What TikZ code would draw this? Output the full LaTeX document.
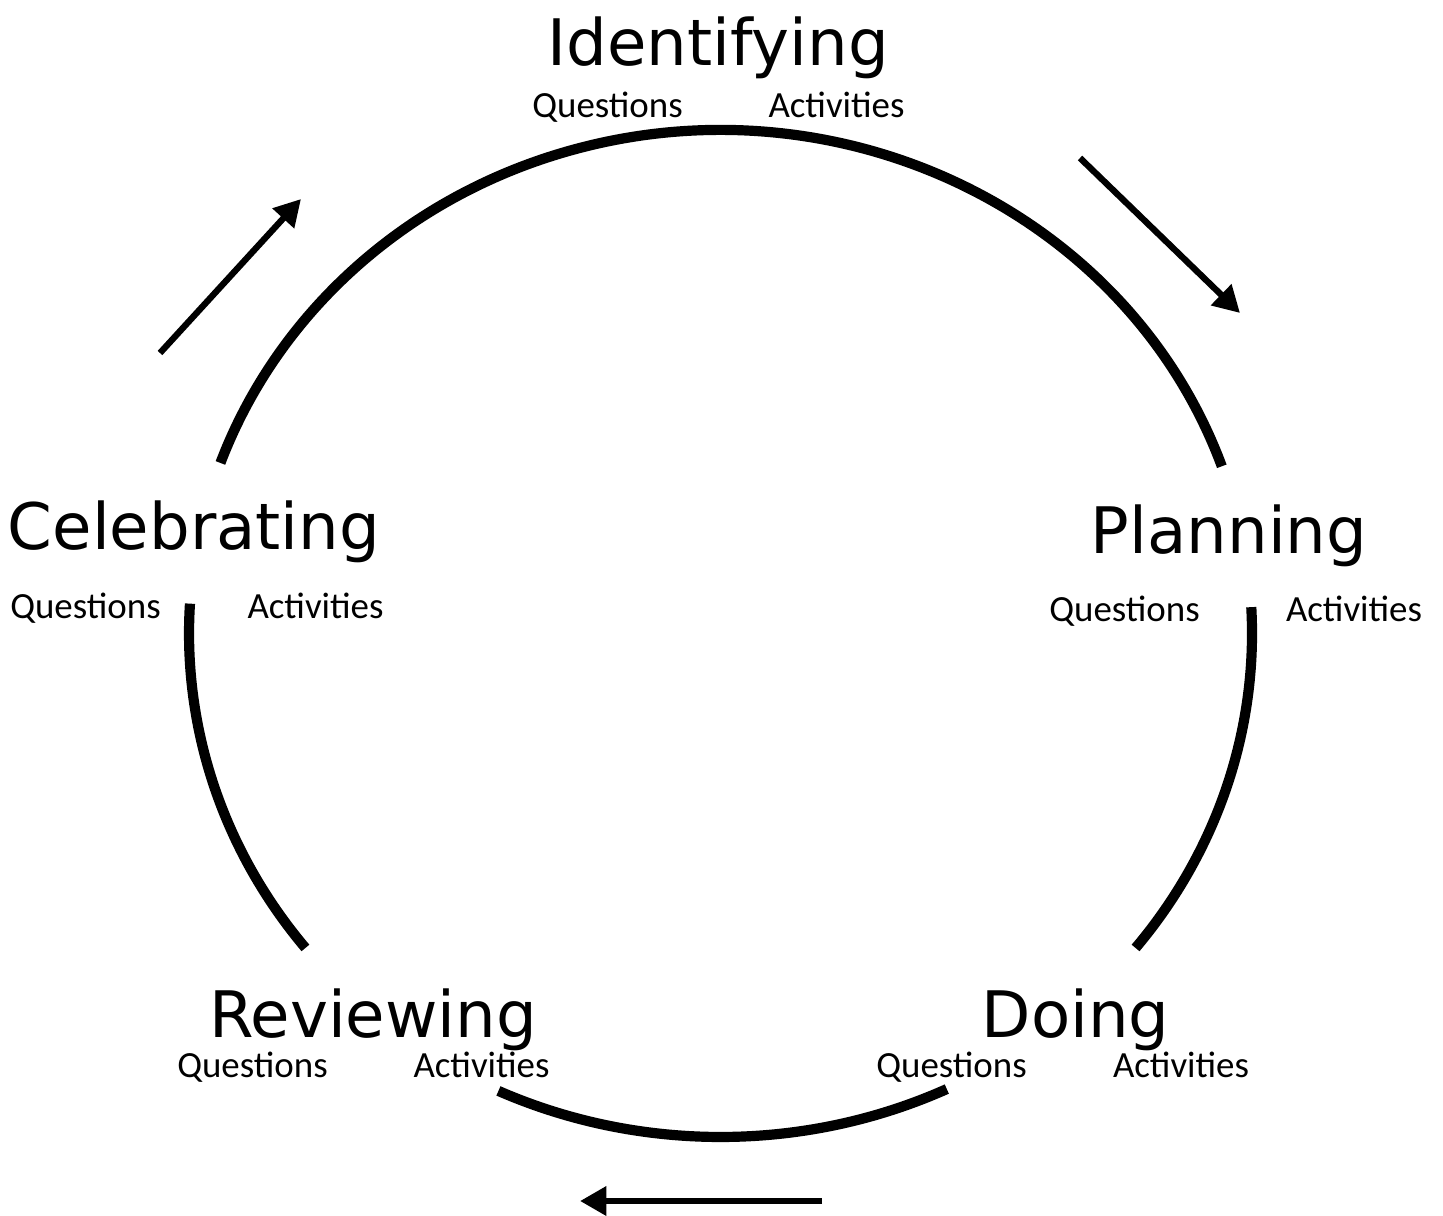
\documentclass[tikz,border=0pt]{standalone}
\usepackage{fontspec}
\usepackage{tikz}
\usetikzlibrary{arrows.meta,calc}

\newfontfamily\stagefont{DejaVu Sans}
\newfontfamily\partfont{Carlito}

\begin{document}
\begin{tikzpicture}[x=0.02cm, y=0.02cm,
  stage/.style={anchor=base, inner sep=0pt, font=\stagefont\fontsize{36.5}{40}\selectfont},
  part/.style={anchor=base, inner sep=0pt, font=\partfont\fontsize{21}{24}\selectfont},
  ring/.style={line width=5.8pt},
  flow/.style={line width=3.6pt, ->, >={Triangle[length=15pt,width=16pt]}}]

\useasboundingbox (0,0) rectangle (1443,1215);

\coordinate (c) at (720.5,581.5);

% Draw the arcs of the cycle (gaps left for the stage names)
\draw [ring] ($(c)+(19.4:531.5 and 503.5)$) arc [start angle=19.4, end angle=160.2, x radius=531.5, y radius=503.5];
\draw [ring] ($(c)+(176.6:531.5 and 503.5)$) arc [start angle=176.6, end angle=218.65, x radius=531.5, y radius=503.5];
\draw [ring] ($(c)+(245.3:531.5 and 503.5)$) arc [start angle=245.3, end angle=295.2, x radius=531.5, y radius=503.5];
\draw [ring] ($(c)+(-38.65:531.5 and 503.5)$) arc [start angle=-38.65, end angle=3, x radius=531.5, y radius=503.5];

% Stage names
\node [stage] (ident) at (718,1149) {Identifying};
\node [stage] (plan)  at (1229,662) {Planning};
\node [stage] (doing) at (1075.5,178) {Doing};
\node [stage] (review) at (373,178) {Reviewing};
\node [stage] (celeb) at (194,665) {Celebrating};

% Questions and activities under each stage
\node [part] (identq) at (607.5,1097) {Questions};
\node [part] (identa) at (836.5,1097) {Activities};
\node [part] (planq) at (1124.5,594) {Questions};
\node [part] (plana) at (1354,594) {Activities};
\node [part] (doingq) at (951.5,138) {Questions};
\node [part] (doinga) at (1181,138) {Activities};
\node [part] (reviewq) at (252.5,138) {Questions};
\node [part] (reviewa) at (481.5,138) {Activities};
\node [part] (celebq) at (85.5,597) {Questions};
\node [part] (celeba) at (315.5,597) {Activities};

% Draw direction arrows
\coordinate (ul0) at (160,862);
\coordinate (ul1) at (301,1016);
\coordinate (ur0) at (1080,1057);
\coordinate (ur1) at (1240,902);
\coordinate (bt0) at (822,14);
\coordinate (bt1) at (580,14);

\draw [flow] (ul0) -- (ul1);
\draw [flow] (ur0) -- (ur1);
\draw [flow] (bt0) -- (bt1);

\end{tikzpicture}
\end{document}
